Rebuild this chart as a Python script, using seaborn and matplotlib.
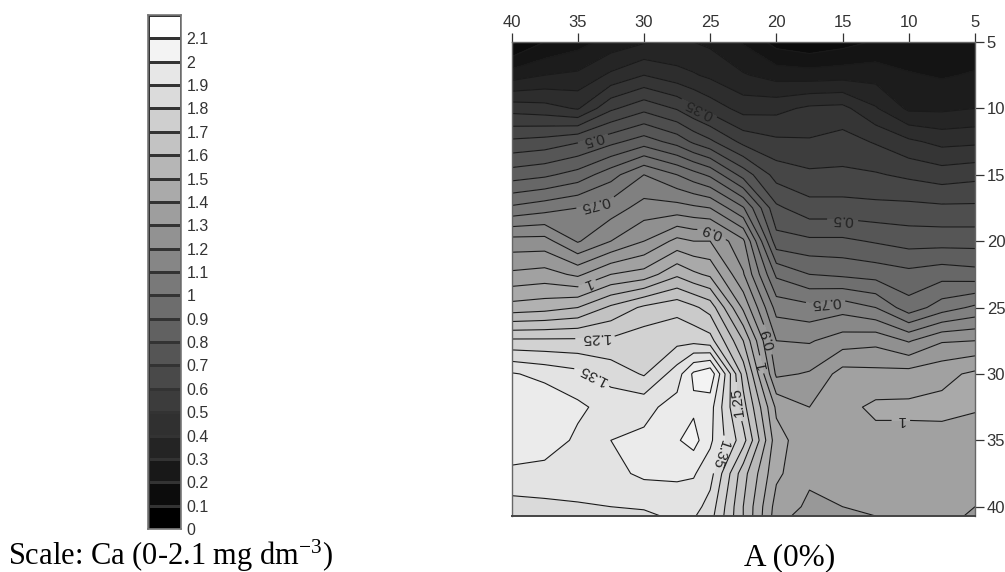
import numpy as np
import matplotlib
matplotlib.use("Agg")
import matplotlib.pyplot as plt
import seaborn as sns

# distance across (top axis) and depth (right axis)
dist = [40, 37.5, 35, 32.5, 30, 27.5, 26.25, 25, 22.5, 20, 17.5, 15, 12.5, 10, 7.5, 5]
depth = [5, 7.5, 10, 12.5, 15, 17.5, 20, 22.5, 25, 27.5, 30, 32.5, 35, 37.5, 40, 40.7]

# Ca, one list per distance, top to bottom
ca_40 = [.04, .175, .33, .46, .575, .71, .87, .96, 1.07, 1.26, 1.405, 1.43, 1.43, 1.39, 1.33, 1.31]
ca_37 = [.10, .20, .32, .47, .59, .73, .87, .97, 1.08, 1.26, 1.385, 1.44, 1.43, 1.38, 1.34, 1.32]
ca_35 = [.13, .21, .295, .495, .62, .75, .795, .94, 1.10, 1.26, 1.365, 1.41, 1.39, 1.38, 1.345, 1.33]
ca_32 = [.17, .26, .39, .535, .68, .775, .85, 1.0, 1.16, 1.26, 1.33, 1.38, 1.40, 1.385, 1.35, 1.33]
ca_30 = [.195, .30, .435, .575, .75, .82, .90, 1.02, 1.21, 1.28, 1.295, 1.385, 1.41, 1.41, 1.355, 1.34]
ca_27 = [.20, .27, .395, .53, .70, .82, .965, 1.09, 1.235, 1.285, 1.375, 1.42, 1.445, 1.41, 1.37, 1.36]
ca_26 = [.20, .255, .36, .49, .67, .81, .95, 1.06, 1.21, 1.285, 1.46, 1.44, 1.47, 1.405, 1.37, 1.355]
ca_25 = [.19, .24, .33, .46, .64, .80, .95, 1.04, 1.18, 1.27, 1.49, 1.42, 1.41, 1.37, 1.33, 1.32]
ca_22 = [.145, .205, .28, .385, .53, .705, .86, .905, .99, 1.10, 1.18, 1.22, 1.27, 1.17, 1.15, 1.15]
ca_20 = [.08, .18, .285, .36, .43, .51, .57, .69, .78, .85, .89, .99, 1.02, 1.01, .98, .975]
ca_17 = [.06, .175, .31, .355, .41, .47, .56, .65, .765, .845, .905, .95, .965, .96, .94, .92]
ca_15 = [.08, .18, .315, .37, .41, .47, .56, .64, .78, .875, .97, .985, .975, .965, .95, .945]
ca_12 = [.105, .18, .255, .345, .405, .465, .545, .63, .75, .885, .965, 1.01, .985, .97, .96, .95]
ca_10 = [.11, .155, .19, .31, .39, .465, .53, .615, .67, .845, .97, 1.01, .985, .975, .975, .975]
ca_07 = [.11, .145, .19, .285, .375, .46, .53, .63, .725, .895, .985, 1.015, .98, .97, .97, .97]
ca_05 = [.12, .155, .20, .29, .385, .46, .53, .62, .76, .90, 1.01, 1.005, .975, .965, .95, .94]

levels = [round(v * 0.05, 2) for v in range(0, 31)]
axis_ticks = [5, 10, 15, 20, 25, 30, 35, 40]

# labels on the contours: level, distance, depth
label_levels = [0.35, 0.5, 0.75, 0.9, 0.5, 1, 0.75, 0.9, 1, 1.25, 1.35, 1.25, 1.35, 1]
label_dist = [26.0, 33.9, 33.7, 24.9, 15.0, 34.4, 16.3, 20.6, 21.2, 33.7, 33.8, 23.0, 24.2, 10.6]
label_depth = [10.3, 12.1, 17.0, 19.4, 18.4, 22.9, 24.4, 27.4, 29.3, 27.0, 30.0, 32.1, 36.1, 33.0]

# colour scale on the left
scale_values = [round(v * 0.1, 1) for v in range(21, -1, -1)]
scale_labels = ["2.1", "2", "1.9", "1.8", "1.7", "1.6", "1.5", "1.4", "1.3", "1.2", "1.1", "1",
                "0.9", "0.8", "0.7", "0.6", "0.5", "0.4", "0.3", "0.2", "0.1", "0"]

sns.set_style("white")
plt.rcParams['font.family'] = ['Liberation Sans', 'DejaVu Sans']
plt.rcParams['mathtext.default'] = 'regular'

W, H = 1005, 572
fig = plt.figure(figsize=(W / 100, H / 100), dpi=100)

# scale bar
cax = fig.add_axes([148 / W, 1 - 529 / H, 33 / W, 514 / H])
sns.heatmap(np.array(scale_values).reshape(-1, 1), cmap="gray", vmin=0, vmax=2.1, cbar=False,
            linewidths=1.0, linecolor="#333333", ax=cax, xticklabels=False)
cax.set_yticks(range(1, 23))
cax.set_yticklabels(scale_labels, rotation=0, fontsize=11.5, color="#333333")
cax.yaxis.tick_right()
cax.tick_params(axis="y", length=0, pad=4)
for s in cax.spines.values():
    s.set_visible(True)
    s.set_color("#777777")
    s.set_linewidth(1.2)

# contour map
ax = fig.add_axes([511.5 / W, 1 - 516 / H, 463.5 / W, 474 / H])
Z = np.column_stack([ca_40, ca_37, ca_35, ca_32, ca_30, ca_27, ca_26, ca_25,
                     ca_22, ca_20, ca_17, ca_15, ca_12, ca_10, ca_07, ca_05])
ax.contourf(dist, depth, Z, levels=levels, cmap="gray", vmin=0, vmax=1.55)
plain_levels = [v for v in levels[1:] if v not in label_levels]
ax.contour(dist, depth, Z, levels=plain_levels, colors="#1a1a1a", linewidths=0.8)

ax.set_xlim(40, 5)
ax.set_ylim(40.7, 5)
ax.set_xticks([40, 35, 30, 25, 20, 15, 10, 5])
ax.set_yticks(axis_ticks)
ax.set_xticklabels(["40", "35", "30", "25", "20", "15", "10", "5"])
ax.tick_params(axis="both", length=6.5, width=0.9, color="#333333", labelcolor="#333333", labelsize=12, pad=2,
               top=True, labeltop=True, bottom=False, labelbottom=False,
               right=True, labelright=True, left=False, labelleft=False)
for name, s in ax.spines.items():
    s.set_visible(True)
    s.set_color("#666666")
    s.set_linewidth(1.0)
ax.spines["bottom"].set_color("#444444")
ax.spines["bottom"].set_linewidth(1.4)

# labelled lines are drawn one level at a time, clabel breaks in a subset of levels
# the text reads upside down in the source
for lev in sorted(set(label_levels)):
    spots = [(x, y) for l, x, y in zip(label_levels, label_dist, label_depth) if l == lev]
    cs = ax.contour(dist, depth, Z, levels=[lev], colors="#1a1a1a", linewidths=0.8)
    texts = ax.clabel(cs, fmt="%g", fontsize=11, colors="#222222", inline=True, manual=spots)
    for t in texts:
        t.set_rotation(t.get_rotation() + 180)

fig.text(8 / W, 1 - 565 / H, "Scale: Ca (0-2.1 mg dm$^{-3}$)", family="Liberation Serif", fontsize=22, color="black", va="baseline", ha="left")
fig.text(790 / W, 1 - 565 / H, "A (0%)", family="Liberation Serif", fontsize=22.5, color="black", va="baseline", ha="center")

fig.savefig("out.png", dpi=100)
